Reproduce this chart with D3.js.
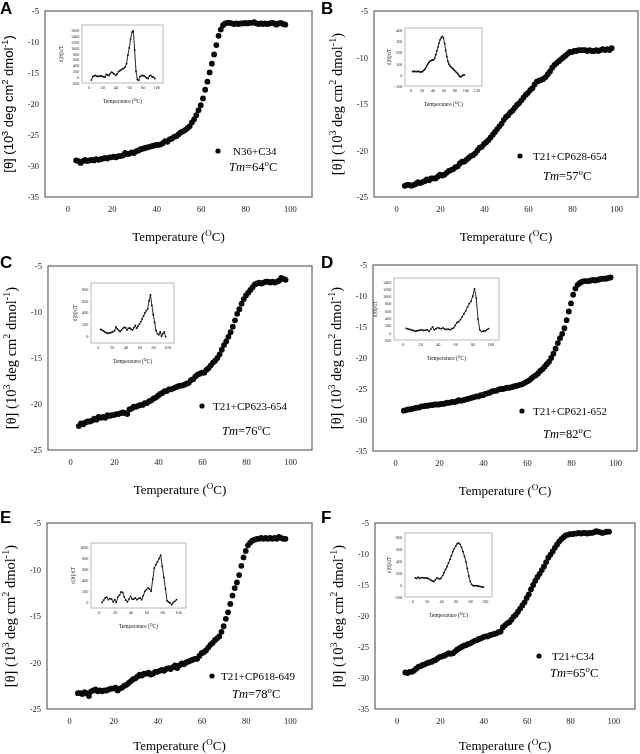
<!DOCTYPE html>
<html>
<head>
<meta charset="utf-8">
<script src="https://cdn.jsdelivr.net/npm/d3@7"></script>
<style>
  body { margin: 0; background: #fff; }
  svg { display: block; filter: grayscale(1); }
</style>
</head>
<body>
<script>
const width = 640,
  height = 754;

// temperatures of the CD melts (deg C)
const temps = [
  4, 5, 6, 7, 8, 9, 10, 11, 12, 13,
  14, 15, 16, 17, 18, 19, 20, 21, 22, 23,
  24, 25, 26, 27, 28, 29, 30, 31, 32, 33,
  34, 35, 36, 37, 38, 39, 40, 41, 42, 43,
  44, 45, 46, 47, 48, 49, 50, 51, 52, 53,
  54, 55, 56, 57, 58, 59, 60, 61, 62, 63,
  64, 65, 66, 67, 68, 69, 70, 71, 72, 73,
  74, 75, 76, 77, 78, 79, 80, 81, 82, 83,
  84, 85, 86, 87, 88, 89, 90, 91, 92, 93,
  94, 95, 96, 97, 98
];

// [theta] values, 10^3 deg cm2 dmol-1
const thetaA = [
  -29.1, -29.2, -29.5, -29.2, -29.0, -29.2, -29.1, -29.0, -29.1, -28.9,
  -29.0, -28.9, -28.8, -28.7, -28.8, -28.6, -28.6, -28.5, -28.6, -28.4,
  -28.4, -28.3, -27.9, -28.1, -28.0, -27.8, -27.9, -27.6, -27.5, -27.3,
  -27.2, -27.1, -27.0, -26.9, -26.8, -26.7, -26.6, -26.6, -26.5, -26.3,
  -26.0, -26.1, -25.7, -25.6, -25.3, -25.2, -24.9, -24.6, -24.4, -24.2,
  -23.9, -23.6, -23.0, -22.5, -21.8, -21.0, -20.2, -19.1, -17.7, -16.4,
  -14.9, -13.5, -12.0, -10.5, -9.0, -8.0, -7.3, -7.0, -6.9, -6.9,
  -7.0, -7.1, -7.0, -7.1, -7.0, -7.0, -6.9, -7.0, -6.9, -6.9,
  -6.8, -7.0, -7.1, -7.0, -7.1, -7.0, -7.1, -7.0, -6.9, -7.0,
  -7.2, -7.0, -6.9, -7.1, -7.2
];
const thetaB = [
  -23.8, -23.7, -23.7, -23.8, -23.7, -23.6, -23.4, -23.5, -23.4, -23.3,
  -23.1, -23.2, -23.0, -23.0, -23.0, -22.8, -22.6, -22.7, -22.6, -22.4,
  -22.2, -22.1, -22.0, -21.8, -21.7, -21.4, -21.2, -21.2, -21.0, -20.8,
  -20.6, -20.5, -20.3, -20.0, -19.7, -19.6, -19.3, -19.1, -18.9, -18.6,
  -18.3, -18.0, -17.7, -17.4, -17.1, -16.7, -16.4, -16.2, -15.9, -15.7,
  -15.4, -15.1, -14.9, -14.6, -14.3, -14.0, -13.8, -13.5, -13.3, -12.9,
  -12.6, -12.5, -12.4, -12.3, -12.1, -11.8, -11.5, -11.1, -10.8, -10.6,
  -10.4, -10.2, -10.0, -9.8, -9.6, -9.4, -9.4, -9.3, -9.3, -9.2,
  -9.2, -9.2, -9.2, -9.3, -9.2, -9.3, -9.3, -9.2, -9.3, -9.2,
  -9.1, -9.2, -9.1, -9.2, -9.0
];
const thetaC = [
  -22.4, -22.1, -22.2, -22.0, -21.9, -21.9, -21.8, -21.6, -21.7, -21.4,
  -21.5, -21.4, -21.5, -21.2, -21.3, -21.2, -21.2, -21.1, -21.1, -21.0,
  -20.9, -21.0, -21.1, -20.6, -20.5, -20.3, -20.3, -20.2, -20.1, -20.1,
  -19.9, -19.9, -19.7, -19.6, -19.4, -19.3, -19.1, -18.9, -18.8, -18.6,
  -18.6, -18.4, -18.4, -18.3, -18.2, -18.1, -18.0, -18.0, -17.9, -17.8,
  -17.7, -17.4, -17.3, -17.0, -16.8, -16.7, -16.6, -16.6, -16.3, -16.1,
  -15.8, -15.5, -15.3, -15.0, -14.6, -14.1, -13.6, -13.2, -12.7, -12.2,
  -11.6, -10.9, -10.2, -9.7, -9.1, -8.6, -8.2, -7.9, -7.6, -7.3,
  -7.0, -6.9, -6.8, -6.9, -6.8, -6.7, -6.7, -6.8, -6.7, -6.8,
  -6.7, -6.6, -6.3, -6.4, -6.5
];
const thetaD = [
  -28.5, -28.4, -28.3, -28.3, -28.2, -28.1, -28.0, -28.0, -27.8, -27.8,
  -27.7, -27.7, -27.6, -27.6, -27.5, -27.5, -27.5, -27.4, -27.4, -27.3,
  -27.2, -27.2, -27.1, -27.1, -27.0, -26.8, -26.9, -26.8, -26.7, -26.6,
  -26.5, -26.4, -26.3, -26.2, -26.2, -26.0, -26.0, -25.8, -25.7, -25.6,
  -25.4, -25.3, -25.3, -25.1, -25.0, -25.0, -24.9, -24.8, -24.8, -24.7,
  -24.6, -24.5, -24.4, -24.3, -24.2, -24.0, -23.8, -23.6, -23.3, -23.0,
  -22.8, -22.5, -22.1, -21.8, -21.4, -21.0, -20.6, -20.0, -19.3, -18.5,
  -17.6, -16.8, -16.1, -15.2, -13.9, -12.5, -11.2, -9.8, -8.8, -8.2,
  -7.9, -7.7, -7.6, -7.6, -7.6, -7.5, -7.4, -7.5, -7.4, -7.3,
  -7.2, -7.2, -7.2, -7.1, -7.0
];
const thetaE = [
  -23.3, -23.3, -23.4, -23.2, -23.3, -23.6, -23.1, -23.0, -22.9, -23.1,
  -23.0, -23.1, -23.0, -23.0, -22.9, -22.8, -22.8, -22.7, -23.0, -22.8,
  -22.7, -22.5, -22.4, -22.2, -22.0, -21.8, -21.7, -21.5, -21.3, -21.4,
  -21.2, -21.2, -21.1, -21.3, -21.2, -21.0, -21.0, -20.9, -20.8, -20.9,
  -20.7, -20.6, -20.7, -20.5, -20.3, -20.6, -20.3, -20.1, -20.2, -20.0,
  -19.9, -19.8, -19.7, -19.6, -19.6, -19.3, -19.0, -18.9, -18.7, -18.4,
  -18.1, -17.9, -17.6, -17.4, -17.2, -16.7, -16.1, -15.3, -14.6, -13.7,
  -12.8, -12.0, -11.4, -10.6, -9.6, -8.7, -8.0, -7.4, -7.1, -6.9,
  -6.8, -6.7, -6.7, -6.6, -6.7, -6.6, -6.7, -6.6, -6.7, -6.6,
  -6.7, -6.5, -6.6, -6.7, -6.7
];
const thetaF = [
  -29.1, -29.2, -29.0, -29.0, -28.8, -28.5, -28.2, -28.1, -27.9, -27.8,
  -27.6, -27.5, -27.4, -27.2, -27.1, -26.8, -26.6, -26.5, -26.4, -26.2,
  -26.0, -26.1, -26.0, -25.7, -25.4, -25.2, -25.0, -24.8, -24.7, -24.5,
  -24.4, -24.2, -24.0, -23.9, -23.7, -23.6, -23.4, -23.3, -23.3, -23.1,
  -23.0, -22.9, -22.8, -22.6, -22.5, -21.8, -21.5, -21.2, -21.0, -20.6,
  -20.1, -19.8, -19.3, -18.8, -18.3, -17.8, -17.1, -16.5, -15.7, -15.0,
  -14.3, -13.7, -13.2, -12.6, -12.0, -11.3, -10.6, -10.1, -9.6, -9.0,
  -8.5, -8.0, -7.6, -7.3, -7.0, -6.9, -6.8, -6.8, -6.7, -6.7,
  -6.6, -6.7, -6.6, -6.6, -6.7, -6.6, -6.6, -6.5, -6.3, -6.4,
  -6.5, -6.6, -6.5, -6.4, -6.4
];

// first derivative d[theta]/dT, every 2 deg C
const derivTemps = [
  4, 6, 8, 10, 12, 14, 16, 18, 20, 22,
  24, 26, 28, 30, 32, 34, 36, 38, 40, 42,
  44, 46, 48, 50, 52, 54, 56, 58, 60, 62,
  64, 66, 68, 70, 72, 74, 76, 78, 80, 82,
  84, 86, 88, 90, 92, 94, 96, 98
];
const derivA = [
  -100, 20, 40, 60, 30, 25, 35, 45, 30, 10,
  0, 90, 70, 60, 130, 170, 140, 100, 60, 110,
  190, 220, 250, 280, 300, 350, 460, 750, 1000, 1300,
  1540, 1580, 920, 200, -80, -110, 20, 50, 60, 40,
  10, -30, -50, 40, 60, 10, 0, -50
];
const derivB = [
  30, 30, 32, 28, 30, 32, 28, 25, 28, 30,
  40, 50, 65, 85, 100, 115, 125, 130, 133, 135,
  150, 180, 215, 250, 285, 315, 335, 345, 330, 280,
  220, 165, 120, 95, 80, 70, 60, 50, 40, 30,
  20, 10, -5, -18, -15, -8, -2, 0
];
const derivC = [
  110, 100, 85, 70, 55, 45, 50, 55, 60, 75,
  85, 155, 120, 95, 75, 100, 130, 145, 140, 100,
  130, 135, 115, 100, 140, 180, 130, 170, 200, 240,
  290, 340, 390, 430, 460, 600, 700, 520, 360, 230,
  90, 40, 20, 70, -5, 40, 70, -15
];
const derivD = [
  120, 100, 90, 80, 60, 40, 50, 60, 70, 80,
  60, 70, 80, 40, 100, 160, 80, 110, 140, 120,
  110, 130, 100, 90, 100, 80, 110, 130, 200, 280,
  300, 360, 440, 520, 600, 700, 800, 860, 1000, 1200,
  950, 380, 80, 30, 40, 50, 80, 110
];
const derivE = [
  0, 40, 80, 95, 50, 70, 60, 10, 50, 0,
  100, 130, 190, 180, 100, 40, 10, 60, 110, 60,
  60, 80, 50, 70, 80, 50, 120, 200, 230, 260,
  240, 200, 420, 620, 680, 730, 790, 850, 650, 450,
  250, 30, 10, -10, -40, 0, 20, 50
];
const derivF = [
  120, 110, 130, 110, 120, 125, 120, 115, 120, 110,
  95, 80, 65, 60, 90, 120, 110, 95, 120, 160,
  210, 260, 310, 370, 430, 490, 560, 610, 650, 690,
  705, 680, 630, 560, 480, 390, 280, 150, 60, 10,
  -10, -10, -10, -15, -20, -25, -30, -35
];

const panelLetters = ["A", "B", "C", "D", "E", "F"];
const complexNames = ["N36+C34", "T21+CP628-654", "T21+CP623-654", "T21+CP621-652", "T21+CP618-649", "T21+C34"];
const tmValues = [64, 57, 76, 82, 78, 65];

// tick labels
const xTicksMain = [0, 20, 40, 60, 80, 100];
const yTicks35 = [-35, -30, -25, -20, -15, -10, -5];
const yTicks25 = [-25, -20, -15, -10, -5];
const insetXTicks100 = [0, 20, 40, 60, 80, 100];
const insetXTicks120 = [0, 20, 40, 60, 80, 100, 120];
const insetYTicksA = [-200, 0, 200, 400, 600, 800, 1000, 1200, 1400, 1600];
const insetYTicksB = [-100, 0, 100, 200, 300, 400];
const insetYTicksC = [0, 200, 400, 600, 800];
const insetYTicksD = [-200, 0, 200, 400, 600, 800, 1000, 1200, 1400];
const insetYTicksE = [0, 200, 400, 600, 800, 1000];
const insetYTicksF = [-200, 0, 200, 400, 600, 800];

const serif = "'Liberation Serif', 'Times New Roman', serif";
const sans = "'Liberation Sans', Arial, sans-serif";

// layout of the six panels (pixels)
const panels = [
  { theta: thetaA, deriv: derivA, yDomain: [-35, -5], yTicks: yTicks35, sansLabel: true,
    frame: { l: 45, r: 312, t: 11, b: 197 }, letter: { x: 0, y: 14 }, titleDy: 44,
    legend: { dx: 173, dy: 140, tx: 15, tmx: 184, tmy: 160 },
    inset: { l: 82, r: 163, t: 25, b: 83, xDomain: [-10, 110], xTicks: insetXTicks100,
      yDomain: [-200, 1780], yTicks: insetYTicksA, ylx: -19 } },
  { theta: thetaB, deriv: derivB, yDomain: [-25, -5], yTicks: yTicks25,
    frame: { l: 374, r: 638, t: 11, b: 197 }, letter: { x: 321, y: 14 }, titleDy: 44,
    legend: { dx: 146, dy: 145, tx: 13, tmx: 169, tmy: 169 },
    inset: { l: 405, r: 482, t: 28, b: 86, xDomain: [-10, 130], xTicks: insetXTicks120,
      yDomain: [-100, 420], yTicks: insetYTicksB, ylx: -14 } },
  { theta: thetaC, deriv: derivC, yDomain: [-25, -5], yTicks: yTicks25,
    frame: { l: 48, r: 312, t: 266, b: 450 }, letter: { x: 0, y: 268 }, titleDy: 44,
    legend: { dx: 154, dy: 140, tx: 11, tmx: 174, tmy: 169 },
    inset: { l: 91, r: 174, t: 283, b: 343, xDomain: [-10, 110], xTicks: insetXTicks100,
      yDomain: [-120, 900], yTicks: insetYTicksC, ylx: -14 } },
  { theta: thetaD, deriv: derivD, yDomain: [-35, -5], yTicks: yTicks35,
    frame: { l: 373, r: 637, t: 265, b: 451 }, letter: { x: 321, y: 268 }, titleDy: 44,
    legend: { dx: 149, dy: 146, tx: 11, tmx: 170, tmy: 173 },
    inset: { l: 394, r: 499, t: 278, b: 340, xDomain: [-10, 110], xTicks: insetXTicks100,
      yDomain: [-200, 1500], yTicks: insetYTicksD, ylx: -17 } },
  { theta: thetaE, deriv: derivE, yDomain: [-25, -5], yTicks: yTicks25,
    frame: { l: 47, r: 312, t: 523, b: 709 }, letter: { x: 0, y: 523 }, titleDy: 41,
    legend: { dx: 165, dy: 153, tx: 9, tmx: 185, tmy: 175 },
    inset: { l: 91, r: 186, t: 543, b: 608, xDomain: [-10, 110], xTicks: insetXTicks100,
      yDomain: [-100, 1070], yTicks: insetYTicksE, ylx: -16 } },
  { theta: thetaF, deriv: derivF, yDomain: [-35, -5], yTicks: yTicks35,
    frame: { l: 375, r: 635, t: 523, b: 709 }, letter: { x: 321, y: 523 }, titleDy: 41,
    legend: { dx: 164, dy: 133, tx: 13, tmx: 175, tmy: 154 },
    inset: { l: 405, r: 492, t: 533, b: 597, xDomain: [-10, 110], xTicks: insetXTicks100,
      yDomain: [-200, 870], yTicks: insetYTicksF, ylx: -14 } }
];

const svg = d3
  .select("body")
  .append("svg")
  .attr("width", width)
  .attr("height", height);

svg.append("rect").attr("width", width).attr("height", height).attr("fill", "#fff");

// text with superscript / italic pieces
function richText(textSel, parts, fs) {
  let up = false;
  parts.forEach(p => {
    const ts = textSel.append("tspan").text(p.t);
    if (p.sup) {
      ts.attr("font-size", fs * 0.7).attr("dy", up ? 0 : -fs * 0.4);
      up = true;
    } else {
      ts.attr("dy", up ? fs * 0.4 : 0);
      up = false;
    }
    if (p.it) ts.attr("font-style", "italic");
  });
}

const plain = d => String(d);

panels.forEach((p, i) => {
  const f = p.frame;
  const x = d3.scaleLinear().domain([-10, 110]).range([f.l, f.r]);
  const y = d3.scaleLinear().domain(p.yDomain).range([f.b, f.t]);
  const g = svg.append("g");

  // panel letter
  g.append("text")
    .attr("x", p.letter.x)
    .attr("y", p.letter.y)
    .attr("font-family", sans)
    .attr("font-weight", "bold")
    .attr("font-size", 17)
    .text(panelLetters[i]);

  // axes (labels only, no tick marks)
  g.append("g")
    .attr("transform", `translate(0,${f.b})`)
    .call(d3.axisBottom(x).tickValues(xTicksMain).tickSize(0).tickPadding(9).tickFormat(plain))
    .call(a => a.select(".domain").remove())
    .attr("font-family", serif)
    .attr("font-size", 8.5)
    .selectAll("text").attr("fill", "#222");

  g.append("g")
    .attr("transform", `translate(${f.l},0)`)
    .call(d3.axisLeft(y).tickValues(p.yTicks).tickSize(0).tickPadding(6).tickFormat(plain))
    .call(a => a.select(".domain").remove())
    .attr("font-family", serif)
    .attr("font-size", 8.5)
    .selectAll("text").attr("fill", "#222");

  // frame
  g.append("rect")
    .attr("x", f.l)
    .attr("y", f.t)
    .attr("width", f.r - f.l)
    .attr("height", f.b - f.t)
    .attr("fill", "none")
    .attr("stroke", "#707070")
    .attr("stroke-width", 1.3);

  // x title
  const xt = g.append("text")
    .attr("x", (f.l + f.r) / 2)
    .attr("y", f.b + p.titleDy)
    .attr("text-anchor", "middle")
    .attr("font-family", serif)
    .attr("font-size", 13);
  richText(xt, [{ t: "Temperature (" }, { t: "O", sup: true }, { t: "C)" }], 13);

  // y title
  const yfs = p.sansLabel ? 13 : 14.5;
  const yt = g.append("text")
    .attr("transform", `translate(${f.l - 32},${(f.t + f.b) / 2}) rotate(-90)`)
    .attr("text-anchor", "middle")
    .attr("font-family", p.sansLabel ? sans : serif)
    .attr("font-size", yfs);
  richText(yt, [
    { t: "[θ] (10" }, { t: "3", sup: true }, { t: " deg cm" }, { t: "2", sup: true },
    { t: " dmol" }, { t: "-1", sup: true }, { t: ")" }
  ], yfs);

  // melting curve
  g.append("g")
    .selectAll("circle")
    .data(temps.map((t, k) => [t, p.theta[k]]).filter(d => d[1] !== undefined))
    .enter()
    .append("circle")
    .attr("cx", d => x(d[0]))
    .attr("cy", d => y(d[1]))
    .attr("r", 2.9)
    .attr("fill", "#0a0a0a");

  // legend
  const lg = p.legend;
  g.append("circle")
    .attr("cx", f.l + lg.dx)
    .attr("cy", f.t + lg.dy)
    .attr("r", 2.6)
    .attr("fill", "#0a0a0a");
  g.append("text")
    .attr("x", f.l + lg.dx + lg.tx)
    .attr("y", f.t + lg.dy)
    .attr("dy", "0.35em")
    .attr("font-family", serif)
    .attr("font-size", 11)
    .text(complexNames[i]);
  const tm = g.append("text")
    .attr("x", f.l + lg.tmx)
    .attr("y", f.t + lg.tmy)
    .attr("font-family", serif)
    .attr("font-size", 12.5);
  richText(tm, [{ t: "Tm", it: true }, { t: "=" + tmValues[i] }, { t: "o", sup: true }, { t: "C" }], 12.5);

  // inset: derivative
  const s = p.inset;
  const ix = d3.scaleLinear().domain(s.xDomain).range([s.l, s.r]);
  const iy = d3.scaleLinear().domain(s.yDomain).range([s.b, s.t]);
  const ig = g.append("g");

  ig.append("rect")
    .attr("x", s.l)
    .attr("y", s.t)
    .attr("width", s.r - s.l)
    .attr("height", s.b - s.t)
    .attr("fill", "#fff")
    .attr("stroke", "#a8a8a8")
    .attr("stroke-width", 0.8);

  ig.append("g")
    .attr("transform", `translate(0,${s.b})`)
    .call(d3.axisBottom(ix).tickValues(s.xTicks).tickSize(0).tickPadding(3).tickFormat(plain))
    .call(a => a.select(".domain").remove())
    .attr("font-family", serif)
    .attr("font-size", 4.3)
    .selectAll("text").attr("fill", "#333");

  ig.append("g")
    .attr("transform", `translate(${s.l},0)`)
    .call(d3.axisLeft(iy).tickValues(s.yTicks).tickSize(0).tickPadding(2.5).tickFormat(plain))
    .call(a => a.select(".domain").remove())
    .attr("font-family", serif)
    .attr("font-size", 4.3)
    .selectAll("text").attr("fill", "#333");

  const ixt = ig.append("text")
    .attr("x", (s.l + s.r) / 2)
    .attr("y", s.b + 20)
    .attr("text-anchor", "middle")
    .attr("font-family", serif)
    .attr("font-size", 5.5)
    .attr("fill", "#222");
  richText(ixt, [{ t: "Temperature (" }, { t: "O", sup: true }, { t: "C)" }], 5.5);

  ig.append("text")
    .attr("transform", `translate(${s.l + s.ylx},${(s.t + s.b) / 2}) rotate(-90)`)
    .attr("text-anchor", "middle")
    .attr("font-family", serif)
    .attr("font-size", 5.5)
    .attr("fill", "#222")
    .text("d[θ]/dT");

  const dData = derivTemps.map((t, k) => [t, p.deriv[k]]).filter(d => d[1] !== undefined);
  const line = d3.line().x(d => ix(d[0])).y(d => iy(d[1]));
  ig.append("path")
    .datum(dData)
    .attr("d", line)
    .attr("fill", "none")
    .attr("stroke", "#111")
    .attr("stroke-width", 0.9);
  ig.selectAll("circle.pt")
    .data(dData)
    .enter()
    .append("circle")
    .attr("class", "pt")
    .attr("cx", d => ix(d[0]))
    .attr("cy", d => iy(d[1]))
    .attr("r", 0.9)
    .attr("fill", "#111");
});
</script>
</body>
</html>
